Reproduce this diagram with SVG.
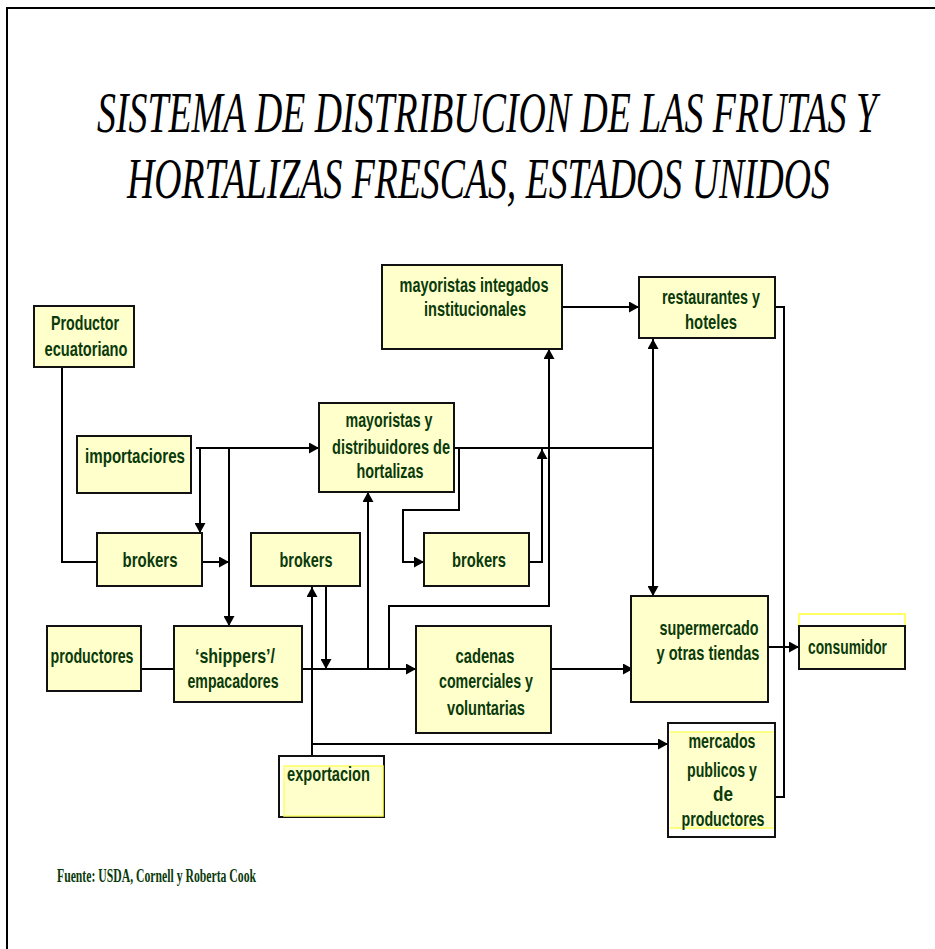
<svg xmlns="http://www.w3.org/2000/svg" width="935" height="949" viewBox="0 0 935 949">
<style>
.bx{fill:#FFFFCC;stroke:#111;stroke-width:2}
.wb{fill:#fff;stroke:#111;stroke-width:2}
.t{font-family:"Liberation Sans",Arial,sans-serif;font-size:21px;font-weight:bold;fill:#0a3a0a;text-anchor:middle}
.tl{font-family:"Liberation Sans",Arial,sans-serif;font-size:21px;font-weight:bold;fill:#0a3a0a}
.ti{font-family:"Liberation Serif","Times New Roman",serif;font-style:italic;font-size:57px;fill:#000}
.c{fill:none;stroke:#000;stroke-width:2}
.ca{fill:none;stroke:#000;stroke-width:2;marker-end:url(#a)}
.cb{fill:none;stroke:#000;stroke-width:2;marker-end:url(#a);marker-start:url(#a)}
</style>
<defs>
<marker id="a" markerUnits="userSpaceOnUse" markerWidth="10" markerHeight="11" refX="10" refY="5" orient="auto-start-reverse" viewBox="0 0 10 10" preserveAspectRatio="none"><path d="M0,0L10,5L0,10z" fill="#000"/></marker>
</defs>
<rect x="7" y="8" width="940" height="950" fill="#fff" stroke="#000" stroke-width="2"/>
<g id="title">
<text class="ti" x="97" y="132" textLength="780" lengthAdjust="spacingAndGlyphs">SISTEMA DE DISTRIBUCION DE LAS FRUTAS Y</text>
<text class="ti" x="127" y="198" textLength="703" lengthAdjust="spacingAndGlyphs">HORTALIZAS FRESCAS, ESTADOS UNIDOS</text>
</g>
<g id="connectors">
<path class="c" d="M62,367V562H97"/>
<path class="ca" d="M196,448H319"/>
<path class="ca" d="M200,448V533"/>
<path class="ca" d="M229,448V626"/>
<path class="ca" d="M202,562H229"/>
<path class="c" d="M141,669H174"/>
<path class="ca" d="M302,669H416"/>
<path class="ca" d="M326,586V669"/>
<path class="cb" d="M312,587V770"/>
<path class="ca" d="M312,744H668"/>
<path class="ca" d="M368,669V492"/>
<path class="ca" d="M389,669V606H549V349"/>
<path class="c" d="M454,448H653"/>
<path class="ca" d="M459,448V510H403V562H424"/>
<path class="ca" d="M529,562H542V449"/>
<path class="cb" d="M653,339V596"/>
<path class="ca" d="M562,307H639"/>
<path class="c" d="M775,307H784V797H775"/>
<path class="ca" d="M551,669H633"/>
<path class="ca" d="M768,647H799"/>
</g>
<g id="productor-ecuatoriano">
<rect class="bx" x="34" y="306" width="100" height="61"/>
<text class="t" x="85" y="330" textLength="68" lengthAdjust="spacingAndGlyphs">Productor</text>
<text class="t" x="86" y="356" textLength="83" lengthAdjust="spacingAndGlyphs">ecuatoriano</text>
</g>
<g id="importaciores">
<rect class="bx" x="77" y="436" width="114" height="57"/>
<text class="t" x="135" y="463" textLength="100" lengthAdjust="spacingAndGlyphs">importaciores</text>
</g>
<g id="mayoristas-integados">
<rect class="bx" x="382" y="265" width="180" height="84"/>
<text class="t" x="474" y="292" textLength="149" lengthAdjust="spacingAndGlyphs">mayoristas integados</text>
<text class="t" x="475" y="316" textLength="102" lengthAdjust="spacingAndGlyphs">institucionales</text>
</g>
<g id="mayoristas-distribuidores">
<rect class="bx" x="319" y="403" width="135" height="89"/>
<text class="t" x="389" y="427" textLength="87" lengthAdjust="spacingAndGlyphs">mayoristas y</text>
<text class="t" x="391" y="454" textLength="118" lengthAdjust="spacingAndGlyphs">distribuidores de</text>
<text class="t" x="390" y="478" textLength="67" lengthAdjust="spacingAndGlyphs">hortalizas</text>
</g>
<g id="restaurantes">
<rect class="bx" x="639" y="277" width="136" height="61"/>
<text class="t" x="711" y="304" textLength="98" lengthAdjust="spacingAndGlyphs">restaurantes y</text>
<text class="t" x="711" y="329" textLength="52" lengthAdjust="spacingAndGlyphs">hoteles</text>
</g>
<g id="brokers-1">
<rect class="bx" x="97" y="533" width="105" height="53"/>
<text class="t" x="150" y="567" textLength="55" lengthAdjust="spacingAndGlyphs">brokers</text>
</g>
<g id="brokers-2">
<rect class="bx" x="251" y="533" width="109" height="53"/>
<text class="t" x="306" y="567" textLength="53" lengthAdjust="spacingAndGlyphs">brokers</text>
</g>
<g id="brokers-3">
<rect class="bx" x="424" y="533" width="105" height="53"/>
<text class="t" x="479" y="567" textLength="54" lengthAdjust="spacingAndGlyphs">brokers</text>
</g>
<g id="productores">
<rect class="bx" x="47" y="626" width="94" height="65"/>
<text class="t" x="92" y="663" textLength="83" lengthAdjust="spacingAndGlyphs">productores</text>
</g>
<g id="shippers">
<rect class="bx" x="174" y="626" width="128" height="76"/>
<text class="t" x="235" y="663" textLength="80" lengthAdjust="spacingAndGlyphs">‘shippers’/</text>
<text class="t" x="233" y="688" textLength="91" lengthAdjust="spacingAndGlyphs">empacadores</text>
</g>
<g id="cadenas">
<rect class="bx" x="416" y="626" width="135" height="107"/>
<text class="t" x="485" y="663" textLength="59" lengthAdjust="spacingAndGlyphs">cadenas</text>
<text class="t" x="486" y="688" textLength="94" lengthAdjust="spacingAndGlyphs">comerciales y</text>
<text class="t" x="486" y="715" textLength="78" lengthAdjust="spacingAndGlyphs">voluntarias</text>
</g>
<g id="supermercado">
<rect class="bx" x="631" y="596" width="137" height="106"/>
<text class="t" x="709" y="635" textLength="99" lengthAdjust="spacingAndGlyphs">supermercado</text>
<text class="t" x="708" y="660" textLength="103" lengthAdjust="spacingAndGlyphs">y otras tiendas</text>
</g>
<g id="consumidor">
<rect x="799" y="614" width="106" height="55" fill="none" stroke="#FFFF66" stroke-width="2"/>
<rect class="bx" x="799" y="626" width="106" height="43"/>
<text class="tl" x="808" y="654" textLength="79" lengthAdjust="spacingAndGlyphs">consumidor</text>
</g>
<g id="exportacion">
<rect class="wb" x="279" y="756" width="105" height="61"/>
<rect x="284" y="766" width="99" height="50" fill="#FFFFCC" stroke="#FFFF66" stroke-width="1.5"/>
<text class="tl" x="287" y="781" textLength="83" lengthAdjust="spacingAndGlyphs">exportacion</text>
</g>
<g id="mercados">
<rect class="wb" x="668" y="723" width="107" height="114"/>
<rect x="670" y="732" width="104" height="97" fill="#FFFFCC"/>
<path d="M670,732H774M670,828H774" stroke="#FFFF66" stroke-width="1.5"/>
<text class="t" x="722" y="748" textLength="67" lengthAdjust="spacingAndGlyphs">mercados</text>
<text class="t" x="722" y="777" textLength="70" lengthAdjust="spacingAndGlyphs">publicos y</text>
<text class="t" x="723" y="801" textLength="20" lengthAdjust="spacingAndGlyphs">de</text>
<text class="t" x="723" y="826" textLength="83" lengthAdjust="spacingAndGlyphs">productores</text>
</g>
<g id="fuente">
<text x="57" y="882" font-family="'Liberation Serif','Times New Roman',serif" font-size="18" font-weight="bold" fill="#0a3a0a" textLength="199" lengthAdjust="spacingAndGlyphs">Fuente: USDA, Cornell y Roberta Cook</text>
</g>
</svg>
